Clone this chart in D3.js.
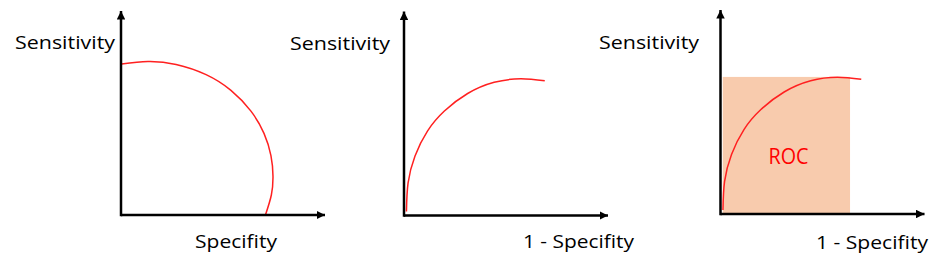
<!DOCTYPE html>
<html>
<head>
<meta charset="utf-8">
<script src="https://cdn.jsdelivr.net/npm/d3@7"></script>
<style>
  body { margin: 0; background: #fff; }
  text { font-family: "Open Sans", sans-serif; }
</style>
</head>
<body>
<div id="chart"></div>
<script>
// curve values, in axis units (0..1 along each arrow)
const specCurve = [
  [0.003, 0.740], [0.132, 0.752], [0.270, 0.738], [0.417, 0.688],
  [0.539, 0.611], [0.637, 0.509], [0.701, 0.400], [0.735, 0.291],
  [0.745, 0.191], [0.737, 0.098], [0.708, 0.000]
];
const rocCurve = [
  [0.012, 0.020], [0.020, 0.160], [0.054, 0.292], [0.115, 0.414],
  [0.198, 0.512], [0.312, 0.598], [0.442, 0.653], [0.573, 0.670],
  [0.690, 0.660]
];
const rocAreaX = [0.011, 0.635];
const rocAreaY = [0, 0.672];
const yLabels = ["Sensitivity", "Sensitivity", "Sensitivity"];
const xLabels = ["Specifity", "1 - Specifity", "1 - Specifity"];
const areaLabel = "ROC";

const width = 945, height = 271;
const axisLen = 204;

// where each little plot sits on the page
const panels = [
  { ox: 121, oy: 215, curve: specCurve, area: false,
    yl: [15, 48.5, 100], xl: [195, 248, 82] },
  { ox: 404, oy: 215.5, curve: rocCurve, area: false,
    yl: [290, 49.5, 100], xl: [523, 248, 111] },
  { ox: 720.5, oy: 214, curve: rocCurve, area: true,
    yl: [599, 48.5, 100], xl: [816, 248.5, 112] }
];

const svg = d3.select("#chart").append("svg")
  .attr("width", width)
  .attr("height", height);

svg.append("defs").append("marker")
  .attr("id", "arrow")
  .attr("viewBox", "0 0 10 10")
  .attr("refX", 10).attr("refY", 5)
  .attr("markerWidth", 3.4).attr("markerHeight", 3.4)
  .attr("markerUnits", "strokeWidth")
  .attr("orient", "auto")
  .append("path")
  .attr("d", "M0,0 L10,5 L0,10 Z")
  .attr("fill", "#000");

panels.forEach((p, i) => {
  const x = d3.scaleLinear().domain([0, 1]).range([p.ox, p.ox + axisLen]);
  const y = d3.scaleLinear().domain([0, 1]).range([p.oy, p.oy - axisLen]);
  const g = svg.append("g");

  if (p.area) {
    g.append("rect")
      .attr("x", x(rocAreaX[0]))
      .attr("y", y(rocAreaY[1]))
      .attr("width", x(rocAreaX[1]) - x(rocAreaX[0]))
      .attr("height", y(rocAreaY[0]) - y(rocAreaY[1]))
      .attr("fill", "#f8cbad");
  }

  const line = d3.line()
    .x(d => x(d[0]))
    .y(d => y(d[1]))
    .curve(d3.curveNatural);

  g.append("path")
    .datum(p.curve)
    .attr("d", line)
    .attr("fill", "none")
    .attr("stroke", "#ff2020")
    .attr("stroke-width", 1.5);

  // axes with arrow heads
  g.append("line")
    .attr("x1", x(0)).attr("y1", y(0))
    .attr("x2", x(1)).attr("y2", y(0))
    .attr("stroke", "#000").attr("stroke-width", 2.5)
    .attr("marker-end", "url(#arrow)");
  g.append("line")
    .attr("x1", x(0)).attr("y1", y(0) + 1.25)
    .attr("x2", x(0)).attr("y2", y(1))
    .attr("stroke", "#000").attr("stroke-width", 2.5)
    .attr("marker-end", "url(#arrow)");

  g.append("text")
    .attr("x", p.yl[0]).attr("y", p.yl[1])
    .attr("font-size", 18.5)
    .attr("textLength", p.yl[2])
    .attr("lengthAdjust", "spacingAndGlyphs")
    .attr("fill", "#000")
    .text(yLabels[i]);

  g.append("text")
    .attr("x", p.xl[0]).attr("y", p.xl[1])
    .attr("font-size", 18.5)
    .attr("textLength", p.xl[2])
    .attr("lengthAdjust", "spacingAndGlyphs")
    .attr("fill", "#000")
    .text(xLabels[i]);

  if (p.area) {
    g.append("text")
      .attr("x", 768.5).attr("y", 164.3)
      .attr("font-size", 22)
      .attr("textLength", 40)
      .attr("lengthAdjust", "spacingAndGlyphs")
      .attr("fill", "#ff0000")
      .text(areaLabel);
  }
});
</script>
</body>
</html>
